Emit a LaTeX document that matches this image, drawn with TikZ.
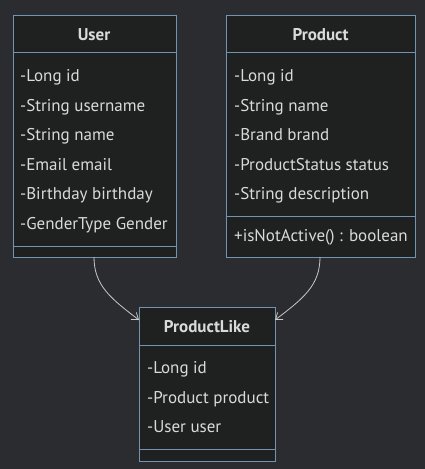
\documentclass[tikz,border=0pt]{standalone}
\usepackage{fontspec}
\setmainfont{PT Sans}
\usetikzlibrary{arrows.meta,calc}

\definecolor{bgdark}{HTML}{2B2C30}
\definecolor{boxfill}{HTML}{1F2020}
\definecolor{boxline}{HTML}{7393B3}
\definecolor{txtgray}{HTML}{DADADA}
\definecolor{linkgray}{HTML}{C8C8C8}

\tikzset{
  classbox/.style={draw=boxline,fill=boxfill,line width=1pt,anchor=north west,inner sep=0pt},
  divider/.style={boxline,line width=1pt},
  title/.style={text=txtgray,font=\fontsize{17}{20}\selectfont\bfseries,inner sep=0pt,text height=14pt,text depth=2pt},
  member/.style={text=txtgray,font=\fontsize{17}{20}\selectfont,anchor=west,inner sep=0pt,text height=14pt,text depth=2pt},
  assoc/.style={linkgray,line width=0.8pt,-{Straight Barb[length=6pt,width=9pt]}}
}

\begin{document}
\begin{tikzpicture}[x=1pt,y=-1pt]
\fill[bgdark] (0,0) rectangle (425,469);
\useasboundingbox (0,0) rectangle (425,469);

% User
\node[classbox,minimum width=163.5pt,minimum height=242pt] (user) at (12.5,15) {};
\draw[divider] (12.5,52) -- (176,52);
\draw[divider] (12.5,246) -- (176,246);
\node[title] (usertitle) at (94,34) {User};
\node[member] (u1) at (20,75) {-Long id};
\node[member] (u2) at (20,105) {-String username};
\node[member] (u3) at (20,134) {-String name};
\node[member] (u4) at (20,164) {-Email email};
\node[member] (u5) at (20,193) {-Birthday birthday};
\node[member] (u6) at (20,223) {-GenderType Gender};

% Product
\node[classbox,minimum width=189pt,minimum height=242pt] (product) at (226,15) {};
\draw[divider] (226,52) -- (415,52);
\draw[divider] (226,216) -- (415,216);
\node[title] (producttitle) at (320.5,34) {Product};
\node[member] (p1) at (234,75) {-Long id};
\node[member] (p2) at (234,105) {-String name};
\node[member] (p3) at (234,134) {-Brand brand};
\node[member] (p4) at (234,164) {-ProductStatus status};
\node[member] (p5) at (234,193) {-String description};
\node[member] (p6) at (234,235) {+isNotActive() : boolean};

% ProductLike
\node[classbox,minimum width=136pt,minimum height=154pt] (like) at (139,307) {};
\draw[divider] (139,345) -- (275,345);
\draw[divider] (139,449) -- (275,449);
\node[title] (liketitle) at (207,326) {ProductLike};
\node[member] (l1) at (147,367) {-Long id};
\node[member] (l2) at (147,397) {-Product product};
\node[member] (l3) at (147,426) {-User user};

% links
\coordinate (userout) at (94,257);
\coordinate (productout) at (320,257);
\coordinate (likeleft) at (139,320);
\coordinate (likeright) at (275,320);
\draw[assoc] (userout) .. controls (94,285) and (110,298) .. (likeleft);
\draw[assoc] (productout) .. controls (320,285) and (304,298) .. (likeright);
\end{tikzpicture}
\end{document}
